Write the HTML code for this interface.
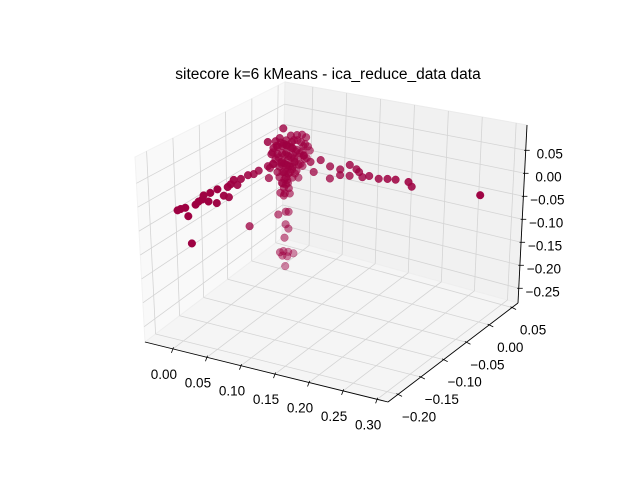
<!DOCTYPE html>
<html><head><meta charset="utf-8"><style>
html,body{margin:0;padding:0;background:#fff;}
svg{display:block;font-family:"Liberation Sans",sans-serif;}
</style></head><body>
<svg id="chart" width="640" height="478" viewBox="0 0 640 478" xmlns="http://www.w3.org/2000/svg">
<rect width="640" height="478" fill="#fff"/>
<text x="328" y="79" font-size="15.5" text-anchor="middle" fill="#000">sitecore k=6 kMeans - ica_reduce_data data</text>
<g id="panes"></g><g id="grid"></g><g id="axes"></g><g id="pts"></g>
</svg>
<script>
const xTicks=[0.00,0.05,0.10,0.15,0.20,0.25,0.30];
const yTicks=[-0.20,-0.15,-0.10,-0.05,0.00,0.05];
const zTicks=[-0.25,-0.20,-0.15,-0.10,-0.05,0.00,0.05];
const xLabels=["0.00","0.05","0.10","0.15","0.20","0.25","0.30"];
const yLabels=["\u22120.20","\u22120.15","\u22120.10","\u22120.05","0.00","0.05"];
const zLabels=["\u22120.25","\u22120.20","\u22120.15","\u22120.10","\u22120.05","0.00","0.05"];
const xRange=[-0.041,0.316], yRange=[-0.222,0.063], zRange=[-0.282,0.105];
// left arm
const leftX=[0,0,0,0,0,0,0,0,0,0,0,0,0,0,0,0,0,0,0,0,0,0,0,0,0,0,0];
const leftY=[-0.200,-0.194,-0.185,-0.180,-0.165,-0.159,-0.149,-0.136,-0.124,-0.122,-0.102,-0.096,-0.090,-0.076,-0.062,-0.051,-0.041,-0.023,-0.021,-0.013,-0.060,-0.175,-0.110,-0.100,-0.083,-0.140,-0.152];
const leftZ=[-0.008,-0.009,-0.012,-0.033,-0.018,-0.015,-0.008,-0.011,-0.041,-0.012,-0.020,-0.018,-0.012,-0.019,-0.020,-0.025,-0.024,-0.026,-0.055,-0.027,-0.137,-0.094,-0.034,-0.044,-0.028,-0.027,-0.015];
// right arm
const rightX=[0.026,0.036,0.051,0.041,0.065,0.065,0.080,0.094,0.094,0.108,0.113,0.123,0.137,0.150,0.162,0.181,0.186,0.287,0.080,0.104];
const rightY=[0.013,0.013,0.013,0.013,0.013,0.013,0.013,0.013,0.013,0.013,0.013,0.013,0.013,0.013,0.013,0.013,0.013,0.013,0.013,0.013];
const rightZ=[-0.017,-0.029,-0.020,-0.051,-0.030,-0.058,-0.032,-0.017,-0.042,-0.029,-0.039,-0.033,-0.035,-0.031,-0.029,-0.028,-0.037,-0.024,-0.045,-0.024];
// vertical drop
const dropX=[0,0,0,0,0,0,0,0,0,0,0,0,0,0,0,0];
const dropY=[0.007,0.002,0.009,0.013,-0.002,0.019,0.013,0.019,0.011,0.009,0.019,0.030,0.007,0.017,0.013,0.002];
const dropZ=[-0.088,-0.106,-0.118,-0.159,-0.154,-0.164,-0.189,-0.204,-0.219,-0.249,-0.259,-0.272,-0.258,-0.268,-0.288,-0.246];
// central cluster
const clusterX=[0,0,0,0,0,0,0,0,0,0,0,0,0,0,0,0,0,0,0,0,0,0,0,0,0,0,0,0,0,0,0,0,0,0,0,0,0,0,0,0,0,0,0,0,0,0,0,0,0,0,0,0,0,0,0,0,0,0,0,0,0,0,0,0,
0,0,0,0,0,0,0,0,0,0,0,0,0,0,0,0,0,0,0,0,0,0,0,0];
const clusterY=[0.007,-0.023,-0.012,-0.004,0.005,0.013,0.024,0.034,0.045,-0.016,-0.004,0.013,0.026,0.038,0.050,-0.008,0.005,0.017,0.030,0.042,-0.012,0.000,0.013,0.026,-0.004,0.009,0.021,0.034,0.000,0.013,0.026,0.005,0.017,0.009,0.019,0.011,0.021,0.013,0.000,0.024,-0.008,-0.019,0.038,0.047,
0.002,0.008,0.014,0.020,0.026,0.005,0.011,0.017,0.023,0.029,0.003,0.009,0.015,0.021,0.006,0.012,0.018,0.010,0.016,0.013,
0.035,0.042,0.050,0.056,0.060,0.032,0.040,0.048,0.054,0.030,0.038,0.046,-0.006,-0.014,-0.002,0.004,0.028,0.034,0.022,0.044,0.052,0.018,0.025,0.031];
const clusterZ=[0.042,0.030,0.009,0.006,0.002,-0.002,-0.015,-0.027,-0.039,-0.003,-0.011,-0.019,-0.033,-0.047,-0.061,-0.020,-0.034,-0.039,-0.053,-0.067,-0.029,-0.043,-0.049,-0.062,-0.053,-0.062,-0.072,-0.077,-0.068,-0.078,-0.088,-0.085,-0.094,-0.100,-0.108,-0.114,-0.122,0.010,0.024,-0.002,0.022,-0.033,-0.097,-0.028,
0.012,0.005,-0.002,-0.010,-0.018,-0.015,-0.022,-0.030,-0.038,-0.045,-0.035,-0.042,-0.050,-0.058,-0.060,-0.066,-0.072,-0.080,-0.086,-0.095,
-0.005,-0.015,-0.025,-0.035,-0.048,-0.030,-0.040,-0.052,-0.062,-0.055,-0.066,-0.075,0.010,0.000,-0.020,-0.040,0.000,0.008,0.015,0.002,-0.010,-0.055,-0.068,-0.082];
const xs=[].concat(leftX,rightX,dropX,clusterX);
const ys=[].concat(leftY,rightY,dropY,clusterY);
const zs=[].concat(leftZ,rightZ,dropZ,clusterZ);

const C={
 "00":{b:[145,342],t:[135,157]}, "10":{b:[388,402],t:[385,203]},
 "11":{b:[518,303],t:[527,125]}, "01":{b:[282,238],t:[285,82]}};
function L(a,b,t){return [a[0]+(b[0]-a[0])*t,a[1]+(b[1]-a[1])*t];}
function P(x,y,z){
 const u=(x-xRange[0])/(xRange[1]-xRange[0]), v=(y-yRange[0])/(yRange[1]-yRange[0]), w=(z-zRange[0])/(zRange[1]-zRange[0]);
 const c00=L(C["00"].b,C["00"].t,w), c10=L(C["10"].b,C["10"].t,w), c11=L(C["11"].b,C["11"].t,w), c01=L(C["01"].b,C["01"].t,w);
 return L(L(c00,c10,u),L(c01,c11,u),v);
}
const NS="http://www.w3.org/2000/svg";
function mk(tag,attrs,parent){const e=document.createElementNS(NS,tag);for(const k in attrs)e.setAttribute(k,attrs[k]);parent.appendChild(e);return e;}
const [x0,x1]=xRange,[y0,y1]=yRange,[z0,z1]=zRange;
function poly(pts){return pts.map(p=>p.join(',')).join(' ');}
const panes=document.getElementById('panes');
let e=mk('polygon',{points:poly([P(x0,y0,z0),P(x0,y1,z0),P(x0,y1,z1),P(x0,y0,z1)]),fill:'#f9f9f9',stroke:'#f2f2f2'},panes);


e=mk('polygon',{points:poly([P(x0,y1,z0),P(x1,y1,z0),P(x1,y1,z1),P(x0,y1,z1)]),fill:'#f1f1f1',stroke:'#ebebeb'},panes);


e=mk('polygon',{points:poly([P(x0,y0,z0),P(x1,y0,z0),P(x1,y1,z0),P(x0,y1,z0)]),fill:'#f5f5f5',stroke:'#eeeeee'},panes);


const grid=document.getElementById('grid');
function gl(a,b,name){const l=mk('line',{x1:a[0],y1:a[1],x2:b[0],y2:b[1],stroke:'#d4d4d4','stroke-width':0.8},grid);
 
 }
yTicks.forEach(y=>{gl(P(x0,y,z0),P(x0,y,z1),'grid-line-y');gl(P(x0,y,z0),P(x1,y,z0),'grid-line-y');});
zTicks.forEach(z=>{gl(P(x0,y0,z),P(x0,y1,z),'grid-line-z');gl(P(x0,y1,z),P(x1,y1,z),'grid-line-z');});
xTicks.forEach(x=>{gl(P(x,y1,z0),P(x,y1,z1),'grid-line-x');gl(P(x,y0,z0),P(x,y1,z0),'grid-line-x');});
const axes=document.getElementById('axes');
function al(a,b,name){const l=mk('line',{x1:a[0],y1:a[1],x2:b[0],y2:b[1],stroke:'#000','stroke-width':0.9},axes);
 
 }
al(P(x0,y0,z0),P(x1,y0,z0),'x-axis-line');
al(P(x1,y0,z0),P(x1,y1,z0),'y-axis-line');
al(P(x1,y1,z0),P(x1,y1,z1),'z-axis-line');
function tick(p,dx,dy,lx,ly,txt,anchor,name){
 const t=mk('line',{x1:p[0]-dx*0.4,y1:p[1]-dy*0.4,x2:p[0]+dx,y2:p[1]+dy,stroke:'#000','stroke-width':0.8},axes);
 
 
 const s=mk('text',{x:p[0]+lx,y:p[1]+ly,'font-size':13.5,'text-anchor':anchor,fill:'#000'},axes);
 s.textContent=txt;
 
 
}
xTicks.forEach((x,i)=>tick(P(x,y0,z0),-1.5,4,-9,30,xLabels[i],'middle','x-axis'));
yTicks.forEach((y,i)=>tick(P(x1,y,z0),4,2,21,27,yLabels[i],'middle','y-axis'));
zTicks.forEach((z,i)=>tick(P(x1,y1,z),4,0,24,8,zLabels[i],'middle','z-axis'));
const pts=document.getElementById('pts');
const items=xs.map((x,i)=>{const u=(x-x0)/(x1-x0),v=(ys[i]-y0)/(y1-y0),w=(zs[i]-z0)/(z1-z0);return {i,d:0.5*u-0.866*v+0.577*w};});
const ds=items.map(o=>o.d),dmin=Math.min(...ds),dmax=Math.max(...ds);
items.sort((a,b)=>a.d-b.d);
items.forEach(o=>{
 const p=P(xs[o.i],ys[o.i],zs[o.i]);
 const a=0.45+0.55*Math.min(1,1.3*(o.d-dmin)/(dmax-dmin));
 const c=mk('circle',{cx:p[0].toFixed(1),cy:p[1].toFixed(1),r:3.8,fill:'#9e0142',stroke:'#9e0142','stroke-width':0.5,'fill-opacity':a.toFixed(2),'stroke-opacity':a.toFixed(2)},pts);
 
 
});
</script>
</body></html>
